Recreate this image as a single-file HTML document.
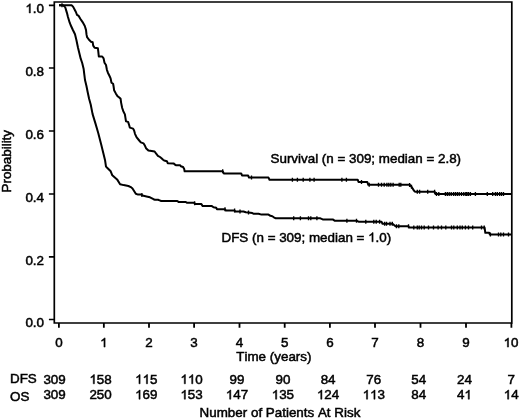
<!DOCTYPE html>
<html><head><meta charset="utf-8"><style>
html,body{margin:0;padding:0;background:#fff;width:520px;height:419px;overflow:hidden;}
svg{display:block;will-change:transform;}
</style></head><body>
<svg width="520" height="419" viewBox="0 0 520 419">
<path d="M54.3 2H511.8V323H54.3Z" fill="none" stroke="#000" stroke-width="1.7"/>
<path d="M48.9 5.3H54.3M48.9 68.0H54.3M48.9 131.0H54.3M48.9 194.0H54.3M48.9 256.9H54.3M48.9 319.5H54.3" stroke="#000" stroke-width="1.7"/>
<path d="M58.90 323V327.7M103.85 323V327.7M149.00 323V327.7M194.10 323V327.7M239.50 323V327.7M284.70 323V327.7M329.90 323V327.7M375.00 323V327.7M420.50 323V327.7M466.00 323V327.7M511.40 323V327.7" stroke="#000" stroke-width="1.8"/>
<polyline points="59.0,5.3 71.8,5.3 73.2,6.9 74.7,9.7 75.9,12.0 77.0,14.8 78.7,15.9 80.3,18.7 82.6,22.1 84.8,26.0 86.0,29.9 86.5,34.4 87.1,37.2 88.8,39.5 91.0,41.7 92.7,42.3 93.2,45.6 94.6,47.8 97.9,48.3 98.3,51.7 98.8,56.5 102.2,56.5 103.6,58.4 104.5,62.7 106.0,65.0 106.9,69.8 107.9,72.7 109.3,75.5 110.6,78.4 111.5,82.7 113.1,83.8 113.6,86.5 114.1,90.2 115.8,93.4 117.4,96.1 119.0,97.2 120.6,98.8 121.1,102.6 122.2,108.0 123.3,111.2 124.9,114.4 125.4,117.6 126.0,121.4 128.1,121.9 129.2,125.2 129.8,127.6 133.1,128.6 134.1,130.5 135.0,133.8 136.5,137.2 138.8,140.0 140.8,142.4 143.6,143.4 145.0,145.8 146.0,148.2 148.4,150.5 151.7,151.0 154.6,151.5 156.0,153.4 157.9,155.8 160.0,157.0 161.5,158.2 163.1,159.7 164.2,160.6 166.9,161.2 167.7,163.2 173.8,163.5 175.0,164.7 175.8,165.2 180.0,165.2 180.8,166.2 183.1,167.0 184.2,168.9 184.6,171.3 222.7,171.3 223.8,173.4 241.2,173.4 242.0,175.4 248.1,175.5 249.0,177.6 268.5,177.6 269.5,179.7 357.7,179.7 358.5,182.0 367.3,182.0 368.3,184.8 409.2,184.8 410.0,184.9 411.5,186.8 412.3,188.0 413.5,189.9 414.6,191.5 415.8,191.7 434.6,191.7 435.4,193.9 511.0,193.9" fill="none" stroke="#000" stroke-width="2.0" stroke-linejoin="round"/>
<polyline points="59.0,5.3 63.0,5.3 64.5,6.5 65.3,7.5 66.1,10.1 67.0,13.1 67.9,16.7 68.8,19.7 69.7,22.7 70.6,25.0 72.9,30.0 75.0,34.3 76.4,40.0 77.9,47.2 79.3,53.0 80.7,58.7 82.2,63.0 83.6,68.7 84.3,74.4 85.0,80.0 86.4,85.7 87.7,92.2 89.1,98.8 90.7,104.5 92.6,114.1 95.5,123.6 98.3,133.2 101.2,144.6 103.1,152.3 105.0,159.9 106.0,166.6 107.9,168.5 110.7,171.3 112.3,175.3 117.1,179.4 120.1,184.2 123.6,185.1 128.4,186.0 130.8,187.1 132.5,188.5 134.4,191.5 135.8,193.8 138.1,194.6 141.2,194.6 143.5,195.8 146.5,196.5 150.0,197.3 151.5,198.1 153.5,199.2 155.0,199.8 158.1,199.8 159.6,200.4 161.2,201.0 177.3,201.0 178.5,201.9 185.8,201.9 186.9,202.8 193.8,202.8 195.4,203.9 201.2,203.9 202.7,206.1 211.9,206.1 213.5,207.2 214.8,207.4 216.2,207.7 216.9,209.2 225.0,209.2 225.8,210.4 234.6,210.4 235.2,211.5 243.5,211.5 245.8,212.3 250.4,212.7 252.3,213.1 253.8,213.8 258.5,213.8 261.5,214.6 268.5,214.6 270.4,215.8 272.3,216.2 273.8,217.3 275.8,218.3 320.4,218.3 322.7,219.4 332.7,219.4 334.6,220.7 356.5,220.7 358.5,221.7 381.5,221.8 382.5,223.7 392.5,223.8 395.5,226.2 408.5,226.2 409.2,227.6 484.6,227.6 485.3,232.8 489.2,232.8 489.8,234.5 511.0,234.5" fill="none" stroke="#000" stroke-width="2.0" stroke-linejoin="round"/>
<path d="M222.7 169.3V173.3M251.5 175.6V179.6M292.4 177.7V181.7M297.4 177.7V181.7M303.2 177.7V181.7M309.9 177.7V181.7M314.1 177.7V181.7M341.9 177.7V181.7M346.4 177.7V181.7M361.5 180.0V184.0M369.2 182.8V186.8M378.5 182.8V186.8M381.5 182.8V186.8M384.2 182.8V186.8M386.9 182.8V186.8M388.8 182.8V186.8M390.8 182.8V186.8M393.1 182.8V186.8M399.2 182.8V186.8M400.8 182.8V186.8M409.6 182.9V186.9M411.5 184.8V188.8M417.3 189.7V193.7M419.6 189.7V193.7M427.7 189.7V193.7M434.6 189.7V193.7M436.5 191.9V195.9M438.8 191.9V195.9M445.4 191.9V195.9M447.3 191.9V195.9M449.2 191.9V195.9M451.2 191.9V195.9M453.5 191.9V195.9M455.4 191.9V195.9M457.3 191.9V195.9M459.2 191.9V195.9M461.5 191.9V195.9M463.8 191.9V195.9M465.8 191.9V195.9M466.9 191.9V195.9M468.5 191.9V195.9M470.4 191.9V195.9M475.4 191.9V195.9M487.3 191.9V195.9M492.7 191.9V195.9M495.4 191.9V195.9M497.3 191.9V195.9M499.6 191.9V195.9M501.5 191.9V195.9M503.5 191.9V195.9M62.0 3.3V7.3M141.9 193.0V197.0M194.6 201.3V205.3M225.0 207.2V211.2M234.6 208.4V212.4M240.0 209.5V213.5M248.5 210.5V214.5M293.7 216.3V220.3M300.4 216.3V220.3M308.5 216.3V220.3M310.8 216.3V220.3M316.9 216.3V220.3M346.9 218.7V222.7M356.5 218.7V222.7M365.8 219.7V223.7M373.8 219.8V223.8M376.2 219.8V223.8M379.6 219.8V223.8M384.6 221.7V225.7M386.5 221.7V225.7M390.0 221.8V225.8M392.3 221.8V225.8M396.5 224.2V228.2M398.8 224.2V228.2M408.5 224.2V228.2M413.8 225.6V229.6M417.3 225.6V229.6M419.2 225.6V229.6M421.5 225.6V229.6M424.2 225.6V229.6M428.5 225.6V229.6M433.5 225.6V229.6M438.1 225.6V229.6M441.5 225.6V229.6M445.8 225.6V229.6M451.5 225.6V229.6M453.8 225.6V229.6M457.3 225.6V229.6M460.0 225.6V229.6M462.3 225.6V229.6M465.4 225.6V229.6M468.5 225.6V229.6M472.7 225.6V229.6M481.5 225.6V229.6M484.2 225.6V229.6M490.4 232.5V236.5M498.5 232.5V236.5M500.8 232.5V236.5M503.5 232.5V236.5M508.5 232.5V236.5" stroke="#000" stroke-width="1.35"/>
<g font-family="Liberation Sans, sans-serif" font-size="13.4" fill="#000" stroke="#000" stroke-width="0.5" style="font-kerning:none">
<text x="44" y="13.0" text-anchor="end">&#x2007;.0</text>
<text x="44" y="75.7" text-anchor="end">0.8</text>
<text x="44" y="138.7" text-anchor="end">0.6</text>
<text x="44" y="201.7" text-anchor="end">0.4</text>
<text x="44" y="264.6" text-anchor="end">0.2</text>
<text x="44" y="327.2" text-anchor="end">0.0</text>
<text x="58.90" y="347.1" text-anchor="middle">0</text>
<text x="103.85" y="347.1" text-anchor="middle">&#x2007;</text>
<text x="149.00" y="347.1" text-anchor="middle">2</text>
<text x="194.10" y="347.1" text-anchor="middle">3</text>
<text x="239.50" y="347.1" text-anchor="middle">4</text>
<text x="284.70" y="347.1" text-anchor="middle">5</text>
<text x="329.90" y="347.1" text-anchor="middle">6</text>
<text x="375.00" y="347.1" text-anchor="middle">7</text>
<text x="420.50" y="347.1" text-anchor="middle">8</text>
<text x="466.00" y="347.1" text-anchor="middle">9</text>
<text x="511.00" y="347.1" text-anchor="middle">&#x2007;0</text>
<text x="236.3" y="360.7">Time (years)</text>
<text x="270.5" y="162.7">Survival (n = 309; median = 2.8)</text>
<text x="221.5" y="241.8">DFS (n = 309; median = &#x2007;.0)</text>
<text x="10" y="382.8">DFS</text>
<text x="10" y="401">OS</text>
<text x="54.6" y="383.8" text-anchor="middle">309</text>
<text x="54.6" y="399.2" text-anchor="middle">309</text>
<text x="100.6" y="383.8" text-anchor="middle">&#x2007;58</text>
<text x="100.6" y="399.2" text-anchor="middle">250</text>
<text x="146.3" y="383.8" text-anchor="middle">&#x2007;&#x2007;5</text>
<text x="146.3" y="399.2" text-anchor="middle">&#x2007;69</text>
<text x="191.6" y="383.8" text-anchor="middle">&#x2007;&#x2007;0</text>
<text x="191.6" y="399.2" text-anchor="middle">&#x2007;53</text>
<text x="237" y="383.8" text-anchor="middle">99</text>
<text x="237" y="399.2" text-anchor="middle">&#x2007;47</text>
<text x="282.9" y="383.8" text-anchor="middle">90</text>
<text x="282.9" y="399.2" text-anchor="middle">&#x2007;35</text>
<text x="328.1" y="383.8" text-anchor="middle">84</text>
<text x="328.1" y="399.2" text-anchor="middle">&#x2007;24</text>
<text x="373.8" y="383.8" text-anchor="middle">76</text>
<text x="373.8" y="399.2" text-anchor="middle">&#x2007;&#x2007;3</text>
<text x="418.7" y="383.8" text-anchor="middle">54</text>
<text x="418.7" y="399.2" text-anchor="middle">84</text>
<text x="464.4" y="383.8" text-anchor="middle">24</text>
<text x="464.4" y="399.2" text-anchor="middle">4&#x2007;</text>
<text x="511.2" y="383.8" text-anchor="middle">7</text>
<text x="511.2" y="399.2" text-anchor="middle">&#x2007;4</text>
<text x="199.6" y="416.9">Number of Patients At Risk</text>
<text transform="translate(11.1 192.5) rotate(-90)">Probability</text>
</g>
<g fill="#000" stroke="#000" stroke-width="76.4"><path transform="translate(25.38 13.00) scale(0.006543 -0.006543)" d="M763 0H583V1098Q518 1039 413 979Q307 920 223 890V1057Q374 1125 487 1221Q600 1318 647 1409H763Z"/><path transform="translate(100.12 347.10) scale(0.006543 -0.006543)" d="M763 0H583V1098Q518 1039 413 979Q307 920 223 890V1057Q374 1125 487 1221Q600 1318 647 1409H763Z"/><path transform="translate(503.55 347.10) scale(0.006543 -0.006543)" d="M763 0H583V1098Q518 1039 413 979Q307 920 223 890V1057Q374 1125 487 1221Q600 1318 647 1409H763Z"/><path transform="translate(368.12 241.80) scale(0.006543 -0.006543)" d="M763 0H583V1098Q518 1039 413 979Q307 920 223 890V1057Q374 1125 487 1221Q600 1318 647 1409H763Z"/><path transform="translate(89.43 383.80) scale(0.006543 -0.006543)" d="M763 0H583V1098Q518 1039 413 979Q307 920 223 890V1057Q374 1125 487 1221Q600 1318 647 1409H763Z"/><path transform="translate(135.13 383.80) scale(0.006543 -0.006543)" d="M763 0H583V1098Q518 1039 413 979Q307 920 223 890V1057Q374 1125 487 1221Q600 1318 647 1409H763Z"/><path transform="translate(142.57 383.80) scale(0.006543 -0.006543)" d="M763 0H583V1098Q518 1039 413 979Q307 920 223 890V1057Q374 1125 487 1221Q600 1318 647 1409H763Z"/><path transform="translate(135.13 399.20) scale(0.006543 -0.006543)" d="M763 0H583V1098Q518 1039 413 979Q307 920 223 890V1057Q374 1125 487 1221Q600 1318 647 1409H763Z"/><path transform="translate(180.43 383.80) scale(0.006543 -0.006543)" d="M763 0H583V1098Q518 1039 413 979Q307 920 223 890V1057Q374 1125 487 1221Q600 1318 647 1409H763Z"/><path transform="translate(187.87 383.80) scale(0.006543 -0.006543)" d="M763 0H583V1098Q518 1039 413 979Q307 920 223 890V1057Q374 1125 487 1221Q600 1318 647 1409H763Z"/><path transform="translate(180.43 399.20) scale(0.006543 -0.006543)" d="M763 0H583V1098Q518 1039 413 979Q307 920 223 890V1057Q374 1125 487 1221Q600 1318 647 1409H763Z"/><path transform="translate(225.83 399.20) scale(0.006543 -0.006543)" d="M763 0H583V1098Q518 1039 413 979Q307 920 223 890V1057Q374 1125 487 1221Q600 1318 647 1409H763Z"/><path transform="translate(271.73 399.20) scale(0.006543 -0.006543)" d="M763 0H583V1098Q518 1039 413 979Q307 920 223 890V1057Q374 1125 487 1221Q600 1318 647 1409H763Z"/><path transform="translate(316.93 399.20) scale(0.006543 -0.006543)" d="M763 0H583V1098Q518 1039 413 979Q307 920 223 890V1057Q374 1125 487 1221Q600 1318 647 1409H763Z"/><path transform="translate(362.63 399.20) scale(0.006543 -0.006543)" d="M763 0H583V1098Q518 1039 413 979Q307 920 223 890V1057Q374 1125 487 1221Q600 1318 647 1409H763Z"/><path transform="translate(370.07 399.20) scale(0.006543 -0.006543)" d="M763 0H583V1098Q518 1039 413 979Q307 920 223 890V1057Q374 1125 487 1221Q600 1318 647 1409H763Z"/><path transform="translate(464.38 399.20) scale(0.006543 -0.006543)" d="M763 0H583V1098Q518 1039 413 979Q307 920 223 890V1057Q374 1125 487 1221Q600 1318 647 1409H763Z"/><path transform="translate(503.75 399.20) scale(0.006543 -0.006543)" d="M763 0H583V1098Q518 1039 413 979Q307 920 223 890V1057Q374 1125 487 1221Q600 1318 647 1409H763Z"/></g>
</svg>
</body></html>
